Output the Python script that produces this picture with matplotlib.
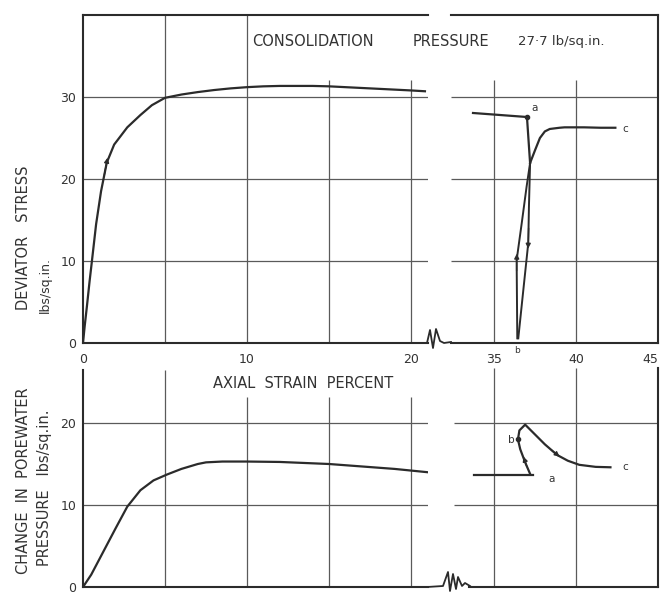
import matplotlib
matplotlib.use("Agg")
import matplotlib.pyplot as plt

W, H = 664, 596

# Deviator stress (lb/sq.in.) against axial strain (%), first loading
strain_load = [0, 0.1, 0.24, 0.4, 0.55, 0.8, 1.1, 1.45, 1.9, 2.7, 3.5, 4.2, 5.0,
               6, 7, 8, 9, 10, 11, 12, 13, 14, 15, 16, 17, 18, 19, 20, 20.85]
stress_load = [0, 2, 4.5, 7.5, 10.1, 14.5, 18.5, 22, 24.2, 26.3, 27.8, 29.0, 29.9,
               30.3, 30.6, 30.85, 31.05, 31.2, 31.3, 31.35, 31.35, 31.35, 31.3,
               31.2, 31.1, 31.0, 30.9, 30.8, 30.7]

# Second part of the test (strain 33.7 - 42.4 %)
strain_pre = [33.72, 37.01, 37.2]
stress_pre = [28.05, 27.56, 21.95]
strain_unload = [37.2, 37.13, 37.09, 36.79, 36.48]
stress_unload = [21.95, 16.6, 12.2, 6.5, 0.57]
strain_reload = [36.42, 36.38, 36.69, 36.99, 37.2]
stress_reload = [0.57, 10.1, 14.6, 19.1, 21.95]
strain_c = [37.2, 37.5, 37.8, 38.1, 38.4, 39.0, 39.3, 40.5, 41.5, 42.4]
stress_c = [21.95, 23.5, 25.0, 25.8, 26.1, 26.25, 26.3, 26.3, 26.25, 26.25]

# Change in porewater pressure (lb/sq.in.)
strain_pw = [0, 0.5, 1.0, 1.5, 2.0, 2.7, 3.5, 4.3, 5.1, 6, 7, 7.5, 8.5, 10, 12,
             15, 17, 19, 21]
pw = [0, 1.5, 3.4, 5.3, 7.2, 9.8, 11.8, 13.0, 13.7, 14.4, 15.0, 15.2, 15.3, 15.3,
      15.25, 15.0, 14.7, 14.4, 14.0]
strain_pw_flat = [33.8, 37.4]
pw_flat = [13.7, 13.7]
strain_pw_loop = [37.2, 36.9, 36.6, 36.46, 36.55, 36.9, 37.4, 38.1, 38.85, 39.5,
                  40.2, 41.2, 42.1]
pw_loop = [13.8, 15.2, 16.8, 18.0, 19.1, 19.8, 18.8, 17.4, 16.1, 15.4, 14.9,
           14.65, 14.6]

INK = "#2b2b2b"
GRID = "#5a5a5a"
TXT = "#333333"
PX = 16.4  # pixels per strain percent

fig = plt.figure(figsize=(W / 100, H / 100), dpi=100)
fig.patch.set_facecolor("white")


def axes_px(left, top, right, bottom):
    return fig.add_axes([left / W, 1 - bottom / H, (right - left) / W, (bottom - top) / H])


def fig_xy(x, y):
    return x / W, 1 - y / H


def style(ax, hide):
    for s in ax.spines.values():
        s.set_color(INK)
        s.set_linewidth(1.5)
    for s in hide:
        ax.spines[s].set_visible(False)
    ax.tick_params(length=0, labelsize=9, labelcolor=TXT)


def arrow(ax, p0, p1):
    ax.annotate("", xy=p1, xytext=p0,
                arrowprops=dict(arrowstyle="-|>", color=INK, lw=1.0, mutation_scale=7,
                                shrinkA=0, shrinkB=0))


x_right = (427.5 - 83) / PX
x_left2 = 35 - (494 - 451.4) / PX

# ---- deviator stress, left part
ax1 = axes_px(83, 15, 427.5, 343)
ax1.set_xlim(0, x_right)
ax1.set_ylim(0, 40)
style(ax1, ["right"])
ax1.vlines([5, 10], 0, 40, color=GRID, lw=0.9)
ax1.vlines([15, 20], 0, 32.1, color=GRID, lw=0.9)
ax1.hlines([10, 20, 30], 0, x_right, color=GRID, lw=0.9)
ax1.plot(strain_load, stress_load, color=INK, lw=1.6)
arrow(ax1, (1.3, 20.5), (1.5, 22.6))
ax1.set_xticks([0, 10, 20], ["0", "10", "20"])
ax1.set_yticks([0, 10, 20, 30], ["0", "10", "20", "30"])
ax1.tick_params(axis="x", pad=7)
ax1.tick_params(axis="y", pad=5)

# ---- deviator stress, right part
ax2 = axes_px(451.4, 15, 658, 343)
ax2.set_xlim(x_left2, 45)
ax2.set_ylim(0, 40)
style(ax2, ["left"])
ax2.vlines([35, 40], 0, 32.1, color=GRID, lw=0.9)
ax2.hlines([10, 20, 30], x_left2, 45, color=GRID, lw=0.9)
ax2.plot(strain_pre, stress_pre, color=INK, lw=1.6)
ax2.plot(strain_unload, stress_unload, color=INK, lw=1.4)
ax2.plot(strain_reload, stress_reload, color=INK, lw=1.4)
ax2.plot(strain_c, stress_c, color=INK, lw=1.6)
ax2.plot([strain_pre[1]], [stress_pre[1]], "o", color=INK, ms=3)
arrow(ax2, (37.11, 14.0), (37.08, 11.5))
arrow(ax2, (36.38, 8.8), (36.39, 10.9))
ax2.text(37.25, 28.6, "a", fontsize=7.5, color=TXT, ha="left", va="center")
ax2.text(42.8, 26.1, "c", fontsize=7.5, color=TXT, ha="left", va="center")
ax2.text(36.42, -0.9, "b", fontsize=6.5, color=TXT, ha="center", va="center",
         clip_on=False)
ax2.set_xticks([35, 40, 45], ["35", "40", "45"])
ax2.get_xticklabels()[-1].set_horizontalalignment("right")
ax2.set_yticks([])
ax2.tick_params(axis="x", pad=7)

# ---- porewater pressure, left part
ax3 = axes_px(83, 370, 427.5, 587)
ax3.set_xlim(0, x_right)
ax3.set_ylim(0, 217 / 8.2)
style(ax3, ["top", "right"])
ax3.vlines([5], 0, 217 / 8.2, color=GRID, lw=0.9)
ax3.vlines([10, 15, 20], 0, 23.2, color=GRID, lw=0.9)
ax3.hlines([10, 20], 0, x_right, color=GRID, lw=0.9)
ax3.plot(strain_pw, pw, color=INK, lw=1.6)
ax3.set_xticks([])
ax3.set_yticks([0, 10, 20], ["0", "10", "20"])
ax3.tick_params(axis="y", pad=5)

# ---- porewater pressure, right part
ax4 = axes_px(454, 368, 658, 587)
ax4.set_xlim(35 - (494 - 454) / PX, 45)
ax4.set_ylim(0, 219 / 8.2)
style(ax4, ["top", "left"])
ax4.spines["bottom"].set_bounds(35 - (494 - 469) / PX, 45)
ax4.vlines([35, 40], 0, 219 / 8.2, color=GRID, lw=0.9)
ax4.hlines([10, 20], 35 - (494 - 454) / PX, 45, color=GRID, lw=0.9)
ax4.plot(strain_pw_flat, pw_flat, color=INK, lw=1.6)
ax4.plot(strain_pw_loop, pw_loop, color=INK, lw=1.6)
ax4.plot([strain_pw_loop[3]], [pw_loop[3]], "o", color=INK, ms=3)
arrow(ax4, (37.0, 14.7), (36.8, 15.9))
arrow(ax4, (38.5, 16.7), (39.0, 15.9))
ax4.text(38.3, 13.2, "a", fontsize=7.5, color=TXT, ha="left", va="center")
ax4.text(36.25, 17.9, "b", fontsize=7.5, color=TXT, ha="right", va="center")
ax4.text(42.8, 14.6, "c", fontsize=7.5, color=TXT, ha="left", va="center")
ax4.set_xticks([])
ax4.set_yticks([])

# ---- axis breaks
brk_top_x = [427, 430, 433, 436, 440, 444, 451]
brk_top_y = [343, 330, 348, 329, 341, 343, 342]
brk_bot_x = [427, 443, 448, 450, 453, 456, 458, 462, 465, 470]
brk_bot_y = [587, 586, 572, 591, 574, 589, 577, 586, 583, 586]
for bx, by in ((brk_top_x, brk_top_y), (brk_bot_x, brk_bot_y)):
    xs = [v / W for v in bx]
    ys = [1 - v / H for v in by]
    fig.add_artist(plt.Line2D(xs, ys, color=INK, lw=1.3))

# ---- texts
fs_title = 10.5
fig.text(*fig_xy(252, 41), "CONSOLIDATION", fontsize=fs_title, color=TXT, ha="left", va="center")
fig.text(*fig_xy(413, 41), "PRESSURE", fontsize=fs_title, color=TXT, ha="left", va="center")
fig.text(*fig_xy(518, 41), "27·7 lb/sq.in.", fontsize=9.5, color=TXT, ha="left", va="center")
fig.text(*fig_xy(303, 383), "AXIAL  STRAIN  PERCENT", fontsize=fs_title, color=TXT,
         ha="center", va="center")
fig.text(*fig_xy(24, 238), "DEVIATOR   STRESS", fontsize=fs_title, color=TXT,
         ha="center", va="center", rotation=90)
fig.text(*fig_xy(45, 285), "lbs/sq.in.", fontsize=9, color=TXT,
         ha="center", va="center", rotation=90)
fig.text(*fig_xy(24, 481), "CHANGE  IN  POREWATER", fontsize=fs_title, color=TXT,
         ha="center", va="center", rotation=90)
fig.text(*fig_xy(45, 488), "PRESSURE   lbs/sq.in.", fontsize=fs_title, color=TXT,
         ha="center", va="center", rotation=90)

fig.savefig("out.png", dpi=100)
